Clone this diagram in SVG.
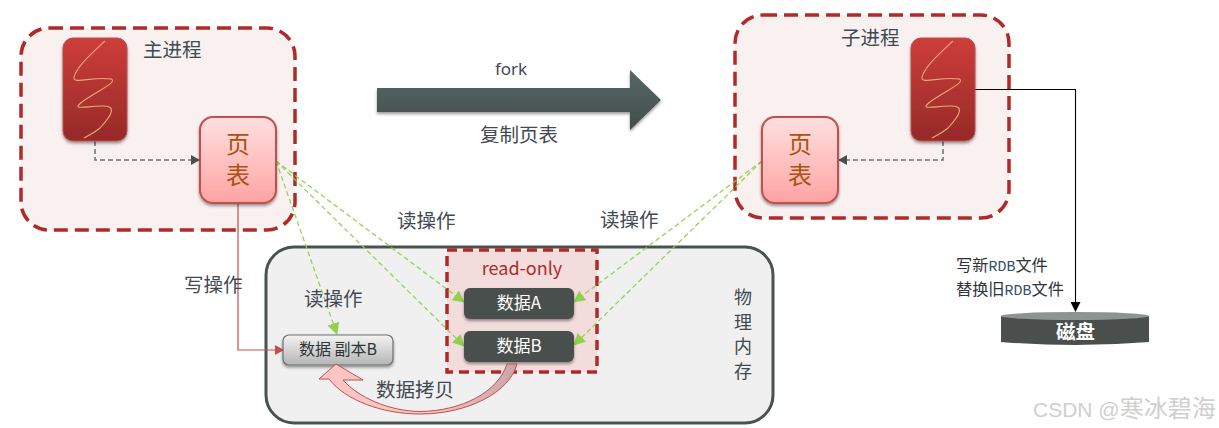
<svg xmlns="http://www.w3.org/2000/svg" width="1219" height="428" viewBox="0 0 1219 428">
<defs>
<linearGradient id="gRed" x1="0" y1="0" x2="0" y2="1"><stop offset="0" stop-color="#cd3d3a"/><stop offset="1" stop-color="#962a28"/></linearGradient>
<linearGradient id="gPink" x1="0" y1="0" x2="0" y2="1"><stop offset="0" stop-color="#ffe0e0"/><stop offset="1" stop-color="#ffa3a3"/></linearGradient>
<linearGradient id="gArrow" x1="0" y1="0" x2="0" y2="1"><stop offset="0" stop-color="#546a66"/><stop offset="1" stop-color="#454b49"/></linearGradient>
<linearGradient id="gGrey" x1="0" y1="0" x2="0" y2="1"><stop offset="0" stop-color="#f4f4f4"/><stop offset="1" stop-color="#b4b4b4"/></linearGradient>
<linearGradient id="gCopy" x1="0" y1="0" x2="1" y2="0"><stop offset="0" stop-color="#ffc4c4"/><stop offset="0.55" stop-color="#f5c6c6"/><stop offset="1" stop-color="#c9a4a6"/></linearGradient>
<filter id="sh" x="-20%" y="-20%" width="140%" height="140%"><feDropShadow dx="0" dy="2" stdDeviation="1.5" flood-color="#000" flood-opacity="0.4"/></filter>
<marker id="mGrey" markerUnits="userSpaceOnUse" markerWidth="9" markerHeight="10" refX="8" refY="5" orient="auto"><path d="M0,0 L9,5 L0,10 Z" fill="#4a5250"/></marker>
<marker id="mGreen" markerUnits="userSpaceOnUse" markerWidth="12" markerHeight="12" refX="11" refY="6" orient="auto"><path d="M0,0 L12,6 L0,12 Z" fill="#92d050"/></marker>
<marker id="mRed" markerUnits="userSpaceOnUse" markerWidth="9" markerHeight="10" refX="8" refY="5" orient="auto"><path d="M0,0 L9,5 L0,10 Z" fill="#c0504d"/></marker>
<marker id="mBlack" markerUnits="userSpaceOnUse" markerWidth="10" markerHeight="10" refX="9" refY="5" orient="auto"><path d="M0,0 L10,5 L0,10 Z" fill="#000"/></marker>
<g id="squiggle"><path d="M42,3 C28,16 14,28 11,39 C9,47 30,38 48,41 C56,44 32,54 19,64 C9,72 18,69 38,68 C54,67 50,76 37,90 C30,96 22,99 21,100" fill="none" stroke="#eaa878" stroke-width="1.1"/></g>
</defs>
<style>
text{font-family:"Noto Sans CJK SC","Liberation Sans",sans-serif}
.proc{fill:#f9f1f0;stroke:#b02a2a;stroke-width:3.5;stroke-dasharray:14 7}
.thread{fill:url(#gRed);stroke:#b8504e;stroke-width:1;filter:url(#sh)}
.page{fill:url(#gPink);stroke:#c0504d;stroke-width:2;filter:url(#sh)}
.pageT{font-size:24px;fill:#a9530f;text-anchor:start;writing-mode:vertical-rl;letter-spacing:6.5px}
.lbl{font-size:19.5px;fill:#3f4a52}
.mem{font-size:18px;fill:#3f4a52;text-anchor:middle}
.dk{fill:#4a4f4d;filter:url(#sh)}
.dkT{font-size:17px;fill:#fff;text-anchor:middle}
.dash{fill:none;stroke:#6b7371;stroke-width:1.5;stroke-dasharray:5 3}
.green{fill:none;stroke:#92d050;stroke-width:1.2;stroke-dasharray:5 3;marker-end:url(#mGreen)}
.rdb{font-family:"Liberation Mono",monospace;font-size:15px;fill:#35506e}
</style>

<g id="main-process">
<rect class="proc" x="21" y="28" width="274" height="202" rx="28"/>
<text class="lbl" x="143" y="57">主进程</text>
</g>
<g id="child-process">
<rect class="proc" x="735" y="15" width="274" height="203" rx="28"/>
<text class="lbl" x="841" y="45">子进程</text>
</g>
<g id="memory">
<rect x="266" y="247" width="507" height="176" rx="28" fill="#f0f0f0" stroke="#4a5250" stroke-width="3"/>
<text class="mem" x="743" y="304">物</text>
<text class="mem" x="743" y="329">理</text>
<text class="mem" x="743" y="353">内</text>
<text class="mem" x="743" y="378">存</text>
</g>
<g id="read-only">
<rect x="447" y="250" width="150" height="122" fill="#f3dcdc" stroke="#b02a2a" stroke-width="3.5" stroke-dasharray="10 6"/>
<text x="522" y="275" font-size="18" fill="#b02a2a" text-anchor="middle">read-only</text>
</g>

<g id="connectors">
<path class="dash" d="M95,141 V160 H199" marker-end="url(#mGrey)"/>
<path class="dash" d="M943,141 V160 H839" marker-end="url(#mGrey)"/>
<path class="green" d="M276,161 L464,302"/>
<path class="green" d="M276,161 L464,346"/>
<path class="green" d="M276,161 L337,334"/>
<path class="green" d="M762,161 L574,302"/>
<path class="green" d="M762,161 L574,345"/>
<path d="M238,203 V350 H283" fill="none" stroke="#c0504d" stroke-width="1.2" marker-end="url(#mRed)"/>
<path d="M975,89.5 H1075.5 V311" fill="none" stroke="#000" stroke-width="1.1" marker-end="url(#mBlack)"/>
</g>

<g id="thread-main">
<rect class="thread" x="63" y="38" width="64" height="103" rx="10"/>
<use href="#squiggle" x="63" y="38"/>
</g>
<g id="thread-child">
<rect class="thread" x="911" y="38" width="64" height="103" rx="10"/>
<use href="#squiggle" x="911" y="38"/>
</g>
<g id="page-main">
<rect class="page" x="200" y="117" width="76" height="86" rx="13"/>
<text class="pageT" x="238" y="132">页表</text>
</g>
<g id="page-child">
<rect class="page" x="762" y="117" width="76" height="86" rx="13"/>
<text class="pageT" x="800" y="132">页表</text>
</g>
<g id="fork-arrow">
<path d="M377,88 H630 V70 L661,100 L630,130 V112 H377 Z" fill="url(#gArrow)" filter="url(#sh)"/>
<text x="511" y="75" font-size="17" fill="#3f4a52" text-anchor="middle" style="font-family:'Noto Sans','Liberation Sans',sans-serif">fork</text>
<text x="519" y="142" font-size="19.5" fill="#3f4a52" text-anchor="middle">复制页表</text>
</g>
<g id="data-a">
<rect class="dk" x="464" y="288" width="110" height="31" rx="6"/>
<text class="dkT" x="519" y="309">数据A</text>
</g>
<g id="data-b">
<rect class="dk" x="464" y="331" width="110" height="31" rx="6"/>
<text class="dkT" x="519" y="352">数据B</text>
</g>
<g id="data-copy">
<rect x="283" y="335" width="110" height="30" rx="6" fill="url(#gGrey)" stroke="#6b7371" stroke-width="1.2" filter="url(#sh)"/>
<text x="338" y="355" font-size="16" fill="#2f3437" text-anchor="middle">数据 副本B</text>
</g>
<g id="copy-arrow">
<path d="M507,364 H517 C510,392 468,414 420,414 C382,414 345,400 329,379 L319,379 L336,364 L363,380 L343,380 C358,397 388,411 420,411.5 C462,411 498,392 507,364 Z" fill="url(#gCopy)" stroke="#c0504d" stroke-width="1"/>
</g>
<g id="labels">
<text class="lbl" x="397" y="228">读操作</text>
<text class="lbl" x="600" y="227">读操作</text>
<text class="lbl" x="184" y="292">写操作</text>
<text class="lbl" x="304" y="306">读操作</text>
<text class="lbl" x="376" y="397">数据拷贝</text>
</g>
<g id="disk">
<path d="M1001,316 H1149 V342 Q1075,348 1001,342 Z" fill="#4a4f4d"/>
<ellipse cx="1075" cy="316" rx="74" ry="4" fill="#8f9391"/>
<text x="1075.5" y="339" font-size="19.5" font-weight="700" fill="#fff" text-anchor="middle">磁盘</text>
</g>
<g id="disk-note">
<text font-size="16.2" fill="#2f3437"><tspan x="956" y="271">写新<tspan class="rdb">RDB</tspan>文件</tspan><tspan x="956" y="294.6">替换旧<tspan class="rdb">RDB</tspan>文件</tspan></text>
</g>
<text x="1033" y="417" font-size="21" fill="#cfcfcf" style="font-family:'Liberation Sans','Noto Sans CJK SC',sans-serif">CSDN @<tspan font-size="24" style="font-family:'Noto Sans CJK SC',sans-serif">寒冰碧海</tspan></text>
</svg>
